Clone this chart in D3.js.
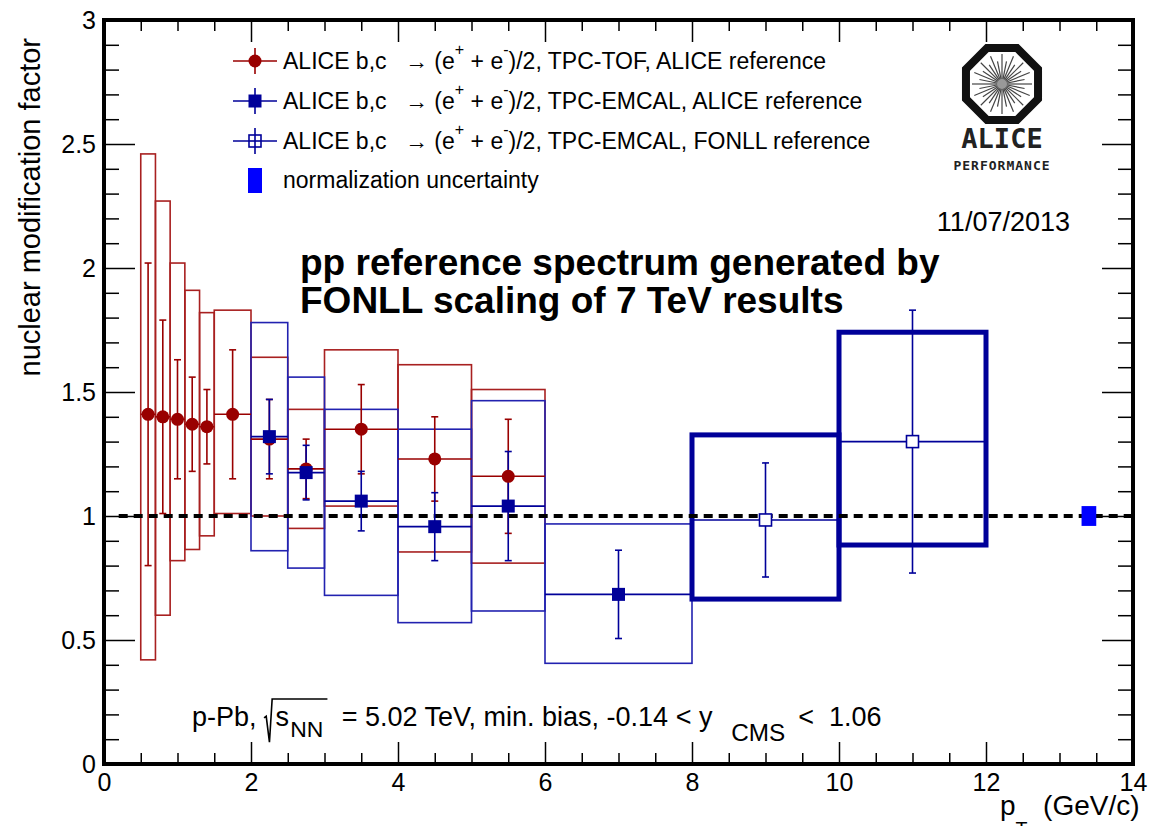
<!DOCTYPE html>
<html>
<head>
<meta charset="utf-8">
<script src="https://cdn.jsdelivr.net/npm/d3@7"></script>
<style>
  body { margin: 0; background: #fff; }
  text { font-family: "Liberation Sans", Arial, Helvetica, sans-serif; white-space: pre; }
</style>
</head>
<body>
<div id="chart"></div>
<script>

// axis ticks
var xTicks = [0, 2, 4, 6, 8, 10, 12, 14];
var xMinor = [0.5, 1, 1.5, 2.5, 3, 3.5, 4.5, 5, 5.5, 6.5, 7, 7.5, 8.5, 9, 9.5, 10.5, 11, 11.5, 12.5, 13, 13.5];
var yTicks = [0, 0.5, 1, 1.5, 2, 2.5, 3];
var yMinor = [0.1, 0.2, 0.3, 0.4, 0.6, 0.7, 0.8, 0.9, 1.1, 1.2, 1.3, 1.4, 1.6, 1.7, 1.8, 1.9,
              2.1, 2.2, 2.3, 2.4, 2.6, 2.7, 2.8, 2.9];

// TPC-TOF, ALICE pp reference (red circles)
var tofLow   = [0.5, 0.7, 0.9, 1.1, 1.3, 1.5, 2.0, 2.5, 3.0, 4.0, 5.0];
var tofHigh  = [0.7, 0.9, 1.1, 1.3, 1.5, 2.0, 2.5, 3.0, 4.0, 5.0, 6.0];
var tofPt    = [0.6, 0.8, 1.0, 1.2, 1.4, 1.75, 2.25, 2.75, 3.5, 4.5, 5.5];
var tofR     = [1.41, 1.40, 1.39, 1.37, 1.36, 1.41, 1.31, 1.19, 1.35, 1.23, 1.16];
var tofStat  = [0.61, 0.39, 0.24, 0.19, 0.15, 0.26, 0.16, 0.12, 0.18, 0.17, 0.23];
var tofSysUp = [2.46, 2.27, 2.02, 1.91, 1.82, 1.83, 1.64, 1.43, 1.67, 1.61, 1.51];
var tofSysDn = [0.42, 0.60, 0.82, 0.865, 0.92, 1.01, 1.00, 0.95, 1.04, 0.855, 0.81];

// TPC-EMCAL, ALICE pp reference (filled squares)
var emcLow   = [2.0, 2.5, 3.0, 4.0, 5.0, 6.0];
var emcHigh  = [2.5, 3.0, 4.0, 5.0, 6.0, 8.0];
var emcPt    = [2.25, 2.75, 3.5, 4.5, 5.5, 7.0];
var emcR     = [1.32, 1.175, 1.06, 0.957, 1.04, 0.684];
var emcStat  = [0.15, 0.11, 0.12, 0.137, 0.22, 0.178];
var emcSysUp = [1.78, 1.56, 1.43, 1.35, 1.465, 0.968];
var emcSysDn = [0.86, 0.79, 0.68, 0.57, 0.617, 0.406];

// TPC-EMCAL, FONLL pp reference (open squares)
var fonLow   = [8, 10];
var fonHigh  = [10, 12];
var fonPt    = [9, 11];
var fonR     = [0.984, 1.30];
var fonStat  = [0.23, 0.53];
var fonSysUp = [1.327, 1.741];
var fonSysDn = [0.665, 0.883];

// normalization uncertainty
var normBin = [13.3, 13.5];
var normUnc = 0.04;

var W = 1152, H = 826;
var red = "#990000", blue = "#000099";

var svg = d3.select("#chart")
    .append("svg")
    .attr("width", W)
    .attr("height", H);

var x = d3.scaleLinear().domain([0, 14]).range([104, 1133]);
var y = d3.scaleLinear().domain([0, 3]).range([764, 20]);

function rows(lo, hi, pt, r, stat, up, dn) {
    return pt.map(function (d, i) {
        return { lo: lo[i], hi: hi[i], pt: d, r: r[i], stat: stat[i], up: up[i], dn: dn[i] };
    });
}
var tof = rows(tofLow, tofHigh, tofPt, tofR, tofStat, tofSysUp, tofSysDn);
var emc = rows(emcLow, emcHigh, emcPt, emcR, emcStat, emcSysUp, emcSysDn);
var fon = rows(fonLow, fonHigh, fonPt, fonR, fonStat, fonSysUp, fonSysDn);

// axes, ROOT style: ticks inside, mirrored on top and right
function axisG(axis, tx, ty) {
    var g = svg.append("g")
        .attr("transform", "translate(" + tx + "," + ty + ")")
        .call(axis);
    g.select(".domain").remove();
    g.selectAll("line").attr("stroke", "#000").attr("stroke-width", 1.5);
    g.selectAll("text").attr("font-size", 25).attr("fill", "#000")
        .style("font-family", "'Liberation Sans', Arial, sans-serif");
    return g;
}
axisG(d3.axisBottom(x).tickValues(xTicks).tickSize(-22).tickPadding(9).tickFormat(d3.format("d")), 0, y(0));
axisG(d3.axisBottom(x).tickValues(xMinor).tickSize(-11).tickFormat(""), 0, y(0));
axisG(d3.axisTop(x).tickValues(xTicks).tickSize(-22).tickFormat(""), 0, y(3));
axisG(d3.axisTop(x).tickValues(xMinor).tickSize(-11).tickFormat(""), 0, y(3));
axisG(d3.axisLeft(y).tickValues(yTicks).tickSize(-31).tickPadding(8).tickFormat(d3.format("")), x(0), 0);
axisG(d3.axisLeft(y).tickValues(yMinor).tickSize(-15).tickFormat(""), x(0), 0);
axisG(d3.axisRight(y).tickValues(yTicks).tickSize(-31).tickFormat(""), x(14), 0);
axisG(d3.axisRight(y).tickValues(yMinor).tickSize(-15).tickFormat(""), x(14), 0);

// systematic boxes
function sysBoxes(data, color, width) {
    svg.append("g").selectAll("rect")
        .data(data)
        .enter()
        .append("rect")
        .attr("x", function (d) { return x(d.lo); })
        .attr("y", function (d) { return y(d.up); })
        .attr("width", function (d) { return x(d.hi) - x(d.lo); })
        .attr("height", function (d) { return y(d.dn) - y(d.up); })
        .attr("fill", "none")
        .attr("stroke", color)
        .attr("stroke-width", width);
}
sysBoxes(tof, "#a82020", 1.6);
sysBoxes(emc, "#2222b0", 1.6);
sysBoxes(fon, blue, 5);

// unity line
svg.append("line")
    .attr("x1", x(0.2)).attr("x2", x(14))
    .attr("y1", y(1)).attr("y2", y(1))
    .attr("stroke", "#000")
    .attr("stroke-width", 4)
    .attr("stroke-dasharray", "9,6");

// bin widths and statistical errors
function errorBars(data, color) {
    var g = svg.append("g").attr("stroke", color).attr("stroke-width", 1.6);
    g.selectAll(".bin").data(data).enter().append("line")
        .attr("x1", function (d) { return x(d.lo); })
        .attr("x2", function (d) { return x(d.hi); })
        .attr("y1", function (d) { return y(d.r); })
        .attr("y2", function (d) { return y(d.r); });
    g.selectAll(".stat").data(data).enter().append("line")
        .attr("x1", function (d) { return x(d.pt); })
        .attr("x2", function (d) { return x(d.pt); })
        .attr("y1", function (d) { return y(d.r + d.stat); })
        .attr("y2", function (d) { return y(d.r - d.stat); });
    [1, -1].forEach(function (s) {
        g.selectAll(".cap").data(data).enter().append("line")
            .attr("x1", function (d) { return x(d.pt) - 3.5; })
            .attr("x2", function (d) { return x(d.pt) + 3.5; })
            .attr("y1", function (d) { return y(d.r + s * d.stat); })
            .attr("y2", function (d) { return y(d.r + s * d.stat); });
    });
}
errorBars(tof, red);
errorBars(emc, blue);
errorBars(fon, blue);

svg.append("g").selectAll("circle")
    .data(tof)
    .enter()
    .append("circle")
    .attr("cx", function (d) { return x(d.pt); })
    .attr("cy", function (d) { return y(d.r); })
    .attr("r", 6.5)
    .attr("fill", red);

svg.append("g").selectAll("rect")
    .data(emc)
    .enter()
    .append("rect")
    .attr("x", function (d) { return x(d.pt) - 6.5; })
    .attr("y", function (d) { return y(d.r) - 6.5; })
    .attr("width", 13).attr("height", 13)
    .attr("fill", blue);

svg.append("g").selectAll("rect")
    .data(fon)
    .enter()
    .append("rect")
    .attr("x", function (d) { return x(d.pt) - 6; })
    .attr("y", function (d) { return y(d.r) - 6; })
    .attr("width", 12).attr("height", 12)
    .attr("fill", "#fff")
    .attr("stroke", blue)
    .attr("stroke-width", 1.6);

svg.append("rect")
    .attr("x", x(normBin[0]))
    .attr("y", y(1 + normUnc))
    .attr("width", x(normBin[1]) - x(normBin[0]))
    .attr("height", y(1 - normUnc) - y(1 + normUnc))
    .attr("fill", "#0000ff");

// frame
svg.append("rect")
    .attr("x", x(0)).attr("y", y(3))
    .attr("width", x(14) - x(0)).attr("height", y(0) - y(3))
    .attr("fill", "none")
    .attr("stroke", "#000")
    .attr("stroke-width", 4);

// text made of pieces: sub/superscripts, gaps and a radical sign
function richText(px, py, size, parts, weight) {
    var g = svg.append("g").attr("transform", "translate(" + px + "," + py + ")");
    var cx = 0, rootX = 0;
    parts.forEach(function (p) {
        if (p.gap) { cx += p.gap * size; return; }
        if (p.rootStart) { rootX = cx; cx += 0.42 * size; return; }
        if (p.rootEnd) {
            g.append("path")
                .attr("d", "M" + rootX + "," + (-0.3 * size) +
                    " L" + (rootX + 0.08 * size) + "," + (-0.36 * size) +
                    " L" + (rootX + 0.2 * size) + "," + (0.6 * size) +
                    " L" + (rootX + 0.3 * size) + "," + (-1.0 * size) +
                    " L" + (cx + 0.05 * size) + "," + (-1.0 * size))
                .attr("fill", "none")
                .attr("stroke", "#000")
                .attr("stroke-width", 1.6);
            cx += 0.05 * size;
            return;
        }
        var t = g.append("text")
            .attr("x", cx)
            .attr("y", (p.dy || 0) * size)
            .attr("font-size", size * (p.scale || 1))
            .attr("font-weight", weight || "normal")
            .attr("fill", "#000")
            .text(p.text);
        cx += t.node().getComputedTextLength();
    });
    return g;
}

// legend
var legendRows = [
    { mark: "circle", tail: ")/2, TPC-TOF, ALICE reference" },
    { mark: "square", tail: ")/2, TPC-EMCAL, ALICE reference" },
    { mark: "open", tail: ")/2, TPC-EMCAL, FONLL reference" }
];
legendRows.forEach(function (row, i) {
    var cy = 61 + i * 40;
    var g = svg.append("g");
    var col = row.mark === "circle" ? red : blue;
    g.append("line").attr("x1", 233).attr("x2", 277).attr("y1", cy).attr("y2", cy)
        .attr("stroke", col).attr("stroke-width", 1.6);
    g.append("line").attr("x1", 255).attr("x2", 255).attr("y1", cy - 13).attr("y2", cy + 13)
        .attr("stroke", col).attr("stroke-width", 1.6);
    if (row.mark === "circle") {
        g.append("circle").attr("cx", 255).attr("cy", cy).attr("r", 6.5).attr("fill", red);
    } else if (row.mark === "square") {
        g.append("rect").attr("x", 248.5).attr("y", cy - 6.5).attr("width", 13).attr("height", 13).attr("fill", blue);
    } else {
        g.append("rect").attr("x", 249).attr("y", cy - 6).attr("width", 12).attr("height", 12)
            .attr("fill", "#fff").attr("stroke", blue).attr("stroke-width", 1.6);
        g.append("line").attr("x1", 249).attr("x2", 261).attr("y1", cy).attr("y2", cy)
            .attr("stroke", blue).attr("stroke-width", 1.6);
        g.append("line").attr("x1", 255).attr("x2", 255).attr("y1", cy - 6).attr("y2", cy + 6)
            .attr("stroke", blue).attr("stroke-width", 1.6);
    }
    richText(283, cy + 8, 23, [
        { text: "ALICE b,c" }, { gap: 0.8 }, { text: "\u2192" }, { text: " (e" },
        { text: "+", dy: -0.6, scale: 0.7 }, { text: " + e" },
        { text: "-", dy: -0.6, scale: 0.7 }, { text: row.tail }
    ]);
});
svg.append("rect").attr("x", 248).attr("y", 168).attr("width", 14).attr("height", 25).attr("fill", "#0000ff");
richText(283, 188, 23, [{ text: "normalization uncertainty" }]);

// collision system
richText(192, 726, 27, [
    { text: "p-Pb, " }, { rootStart: true }, { text: "s" }, { gap: 0.05 },
    { text: "NN", dy: 0.4, scale: 0.85 }, { gap: 0.1 }, { rootEnd: true }, { gap: 0.25 },
    { text: " = 5.02 TeV, min. bias, -0.14 < y" }, { gap: 0.7 },
    { text: "CMS", dy: 0.55, scale: 0.9 }, { gap: 0.2 }, { text: " <  1.06" }
]);

richText(300, 275, 37, [{ text: "pp reference spectrum generated by" }], "bold");
richText(300, 313, 37, [{ text: "FONLL scaling of 7 TeV results" }], "bold");

svg.append("text")
    .attr("x", 1070).attr("y", 231)
    .attr("text-anchor", "end")
    .attr("font-size", 27)
    .text("11/07/2013");

// axis titles
svg.append("text")
    .attr("transform", "translate(40,38) rotate(-90)")
    .attr("text-anchor", "end")
    .attr("font-size", 29)
    .text("nuclear modification factor");
richText(1000, 815, 28, [{ text: "p" }, { text: "T", dy: 0.75, scale: 0.7 }, { text: "  (GeV/c)" }]);

// ALICE logo
var logo = svg.append("g").attr("transform", "translate(1002,84)");
var oct = d3.range(8).map(function (k) {
    var a = Math.PI / 8 + k * Math.PI / 4;
    return [39 * Math.cos(a), 39 * Math.sin(a)];
});
logo.append("path")
    .attr("d", d3.line()(oct) + "Z")
    .attr("fill", "none")
    .attr("stroke", "#111")
    .attr("stroke-width", 8)
    .attr("stroke-linejoin", "miter");
logo.selectAll(".ray")
    .data(d3.range(32))
    .enter()
    .append("line")
    .attr("x1", function (k) { return 4 * Math.cos(k * Math.PI / 16); })
    .attr("y1", function (k) { return 4 * Math.sin(k * Math.PI / 16); })
    .attr("x2", function (k) { return (k % 2 ? 23 : 30) * Math.cos(k * Math.PI / 16); })
    .attr("y2", function (k) { return (k % 2 ? 23 : 30) * Math.sin(k * Math.PI / 16); })
    .attr("stroke", "#444")
    .attr("stroke-width", 1.2);
logo.append("circle").attr("r", 5).attr("fill", "#999");
logo.append("text")
    .attr("y", 64)
    .attr("text-anchor", "middle")
    .attr("font-size", 27)
    .attr("font-weight", "bold")
    .style("font-family", "'DejaVu Sans Mono', monospace")
    .attr("fill", "#222")
    .text("ALICE");
logo.append("text")
    .attr("y", 86)
    .attr("text-anchor", "middle")
    .attr("font-size", 13)
    .attr("font-weight", "bold")
    .attr("letter-spacing", 1)
    .style("font-family", "'DejaVu Sans Mono', monospace")
    .attr("fill", "#222")
    .text("PERFORMANCE");

</script>
</body>
</html>
